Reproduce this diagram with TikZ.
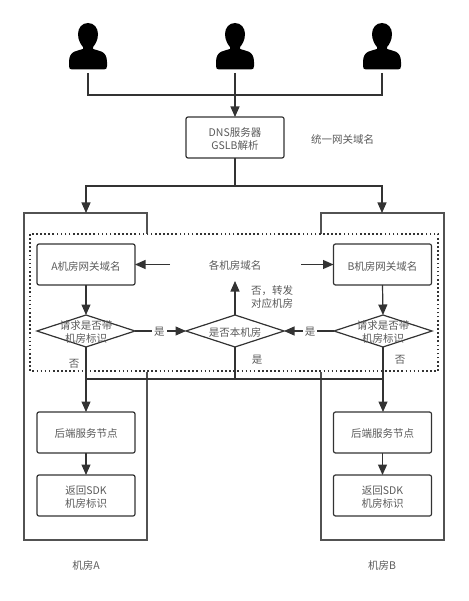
\documentclass[tikz,border=0pt]{standalone}
\usepackage{fontspec}
\setmainfont{Noto Sans CJK SC}
\usetikzlibrary{arrows.meta,shapes.geometric}
\definecolor{ln}{HTML}{333333}
\definecolor{tx}{HTML}{5A5A5A}
\tikzset{
  x=1pt,y=-1pt,
  every node/.style={font=\fontsize{10.5}{13}\selectfont,text=tx,align=center,inner sep=0pt,outer sep=0pt},
  conn/.style={draw=ln,line width=1.2pt},
  arr/.style={conn,-{Triangle[length=10.5pt,width=9pt]}},
  boxn/.style={draw=ln,line width=1.2pt,rounded corners=2pt,minimum width=98pt,minimum height=41pt},
  dia/.style={draw=ln,line width=1.2pt,diamond,aspect=3,minimum width=98pt,minimum height=32pt},
  room/.style={draw=ln!85!white,line width=1.1pt},
  lab/.style={yshift=-1.5pt},
  edgelbl/.style={fill=white,inner xsep=2pt,inner ysep=1pt,yshift=-1pt},
  person/.style={fill=black,draw=none}
}
\newcommand{\personshape}[1]{%
  \fill[person,shift={(#1,0)}] (0,23) .. controls (6,23) and (10,28) .. (10,34)
   .. controls (10,40) and (7,45) .. (5,47) -- (5,49)
   .. controls (10,51) and (19,50) .. (19,62) -- (19,66) .. controls (19,68.5) and (18,69.5) .. (16,69.5)
   -- (-16,69.5) .. controls (-18,69.5) and (-19,68.5) .. (-19,66) -- (-19,62)
   .. controls (-19,50) and (-10,51) .. (-5,49) -- (-5,47)
   .. controls (-7,45) and (-10,40) .. (-10,34) .. controls (-10,28) and (-6,23) .. (0,23) -- cycle;}
\begin{document}
\begin{tikzpicture}
\useasboundingbox (0,0) rectangle (468,601);
% users
\personshape{88}\personshape{235}\personshape{382}
\coordinate (u1) at (88,73);
\coordinate (u2) at (235,73);
\coordinate (u3) at (382,73);
\coordinate (ubus) at (235,95);
% rooms (open outlines)
\coordinate (ra) at (86,213);
\coordinate (rb) at (382,213);
\draw[room] (147,234) -- (147,213) -- (24,213) -- (24,540) -- (147,540) -- (147,372);
\draw[room] (321,234) -- (321,213) -- (444,213) -- (444,540) -- (321,540) -- (321,372);
% dotted frame
\draw[draw=ln,line width=1.4pt,dash pattern=on 1.6pt off 2.5pt] (30,234) rectangle (438,371);
% nodes
\node[boxn,label={[lab]center:{DNS服务器\\GSLB解析}}] (dns) at (235,137.5) {};
\node (unify) at (342.5,139) {统一网关域名};
\node[boxn,label={[lab]center:A机房网关域名}] (agw) at (86,264.5) {};
\node[boxn,label={[lab]center:B机房网关域名}] (bgw) at (382.5,264.5) {};
\node (all) at (235,265.5) {各机房域名};
\node[dia,label={[lab]center:{请求是否带\\机房标识}}] (da) at (86,331) {};
\node[dia,label={[lab]center:是否本机房}] (dc) at (235,331) {};
\node[dia,label={[lab]center:{请求是否带\\机房标识}}] (db) at (383,331) {};
\node[boxn,label={[lab]center:后端服务节点}] (asv) at (86,432.5) {};
\node[boxn,label={[lab]center:后端服务节点}] (bsv) at (382.5,432.5) {};
\node[boxn,label={[lab]center:{返回SDK\\机房标识}}] (art) at (86,495.5) {};
\node[boxn,label={[lab]center:{返回SDK\\机房标识}}] (brt) at (382.5,495.5) {};
\node (rla) at (86,565) {机房A};
\node (rlb) at (382,565) {机房B};
\node (fwd) at (272,297) {否，转发\\对应机房};
\node (noa) at (74,364) {否};
\node (yesc) at (257,360) {是};
\node (nob) at (400,360) {否};
% connectors
\draw[conn] (u1) |- (ubus);
\draw[conn] (u3) |- (ubus);
\draw[arr] (u2) -- (dns.north);
\coordinate (dbus) at (235,186);
\draw[conn] (dns.south) -- (dbus);
\draw[arr] (dbus) -| (ra);
\draw[arr] (dbus) -| (rb);
\coordinate (alla) at (170,264.5);
\coordinate (allb) at (301,264.5);
\draw[arr] (alla) -- (agw.east);
\draw[arr] (allb) -- (bgw.west);
\draw[arr] (dc.north) -- (235,281);
\draw[arr] (agw.south) -- (da.north);
\draw[arr] (bgw.south) -- (db.north);
\draw[arr] (da.east) -- node[edgelbl,pos=.48] (ya) {是} (dc.west);
\draw[arr] (db.west) -- node[edgelbl,pos=.48] (yb) {是} (dc.east);
\draw[arr] (da.south) -- (asv.north);
\draw[arr] (db.south) -- (db.south |- bsv.north);
\coordinate (hbus) at (86,379);
\draw[conn] (hbus) -- (db.south |- hbus);
\draw[conn] (dc.south) -- (dc.south |- hbus);
\draw[arr] (asv.south) -- (art.north);
\draw[arr] (bsv.south) -- (brt.north);
\end{tikzpicture}
\end{document}
